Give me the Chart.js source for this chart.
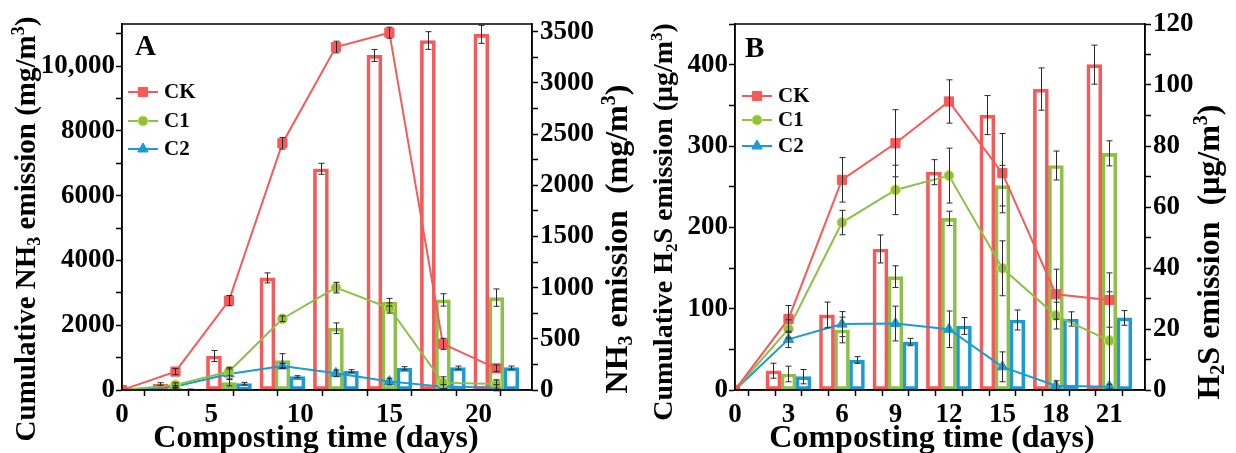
<!DOCTYPE html>
<html><head><meta charset="utf-8">
<script src="https://cdn.jsdelivr.net/npm/chart.js@4.4.0/dist/chart.umd.min.js"></script>
<style>
html,body{margin:0;padding:0;background:#fff;}
body{width:1236px;height:453px;position:relative;overflow:hidden;}
#ca{position:absolute;left:0;top:0;}
#cb{position:absolute;left:620px;top:0;}
</style></head><body>
<canvas id="ca" width="640" height="453"></canvas>
<canvas id="cb" width="616" height="453"></canvas>
<script>
// ---------- DATA ----------
const lineDays = [0, 3, 6, 9, 12, 15, 18, 21];
const barDays = [3, 6, 9, 12, 15, 18, 21];
const seriesNames = ['CK', 'C1', 'C2'];

// Panel A: NH3 (lines = daily emission, right axis; bars = cumulative, left axis)
const nh3RateCK = [0, 180, 873, 2410, 3350, 3490, 451, 212];
const nh3RateC1 = [0, 50, 180, 696, 1000, 801, 72, 59];
const nh3RateC2 = [0, 35, 157, 235, 163, 82, 33, 22];
const nh3RateErrCK = [0, 30, 50, 57, 57, 54, 54, 33];
const nh3RateErrC1 = [0, 20, 42, 28, 52, 50, 57, 40];
const nh3RateErrC2 = [0, 10, 49, 25, 33, 33, 20, 30];
const nh3CumCK = [185, 1050, 3460, 6830, 10330, 10790, 10980];
const nh3CumC1 = [40, 226, 905, 1906, 2710, 2781, 2852];
const nh3CumC2 = [20, 195, 411, 587, 670, 690, 690];
const nh3CumErrCK = [40, 170, 155, 170, 185, 273, 278];
const nh3CumErrC1 = [15, 100, 216, 165, 118, 190, 268];
const nh3CumErrC2 = [10, 40, 30, 40, 50, 50, 50];

// Panel B: H2S
const h2sRateCK = [0, 23.3, 68.9, 80.9, 94.6, 71.1, 31.4, 29.5];
const h2sRateC1 = [0, 20.0, 54.9, 65.6, 70.3, 39.9, 24.4, 16.2];
const h2sRateC2 = [0, 16.6, 21.6, 21.8, 19.9, 7.6, 1.4, 1.1];
const h2sRateErrCK = [0, 4.4, 7.3, 11, 7.1, 13, 8.2, 8.9];
const h2sRateErrC1 = [0, 3, 4, 8.1, 9, 9, 4.4, 16];
const h2sRateErrC2 = [0, 2.7, 4.1, 5.7, 6, 4.9, 1.6, 0.8];
const h2sCumCK = [23.7, 92.3, 173.4, 267.8, 338, 370, 400];
const h2sCumC1 = [19.7, 73.8, 139.4, 211, 251.3, 276, 291];
const h2sCumC2 = [16.4, 36.9, 59, 78.7, 86.1, 87.3, 88.6];
const h2sCumErrCK = [9.2, 15.8, 17.2, 15.4, 24, 26, 24];
const h2sCumErrC1 = [9.6, 15.8, 13.3, 8.8, 25, 17.8, 15.4];
const h2sCumErrC2 = [8.8, 4.1, 4.5, 10.3, 12.3, 8.8, 9];

// Tick labels (major) and tick-mark spacing (minor)
const aXTickVals = [0, 5, 10, 15, 20];
const aXTickText = ['0', '5', '10', '15', '20'];
const aLeftTickVals = [0, 2000, 4000, 6000, 8000, 10000];
const aLeftTickText = ['0', '2000', '4000', '6000', '8000', '10,000'];
const aRightTickVals = [0, 500, 1000, 1500, 2000, 2500, 3000, 3500];
const aRightTickText = ['0', '500', '1000', '1500', '2000', '2500', '3000', '3500'];
const bXTickVals = [0, 3, 6, 9, 12, 15, 18, 21];
const bXTickText = ['0', '3', '6', '9', '12', '15', '18', '21'];
const bLeftTickVals = [0, 100, 200, 300, 400];
const bLeftTickText = ['0', '100', '200', '300', '400'];
const bRightTickVals = [0, 20, 40, 60, 80, 100, 120];
const bRightTickText = ['0', '20', '40', '60', '80', '100', '120'];

// ---------- STYLE ----------
const RED = '#F55A5A', GREEN = '#8CC04A', BLUE = '#1C9AD6';
const FONT = '"Liberation Serif", "Times New Roman", serif';

function labeler(vals, texts) {
  return function (v) {
    for (let i = 0; i < vals.length; i++) if (Math.abs(v - vals[i]) < 1e-6) return texts[i];
    return '';
  };
}
function tickMarks(max, step) {
  const out = [];
  for (let k = 0; k * step <= max + 1e-9; k++) out.push({ value: Math.round(k * step * 1000) / 1000 });
  return out;
}

function pairs(xs, ys) { return xs.map((x, i) => ({ x: x, y: ys[i] })); }

function lineDS(label, ys, errs, color, style, radius, borderCol) {
  return {
    type: 'line', label: label, data: pairs(lineDays, ys), errors: errs,
    yAxisID: 'yR', order: 1,
    borderColor: color, backgroundColor: color, borderWidth: 2, tension: 0,
    pointStyle: style, pointRadius: radius, pointBorderColor: borderCol || color,
    pointBackgroundColor: color, pointBorderWidth: 1, fill: false
  };
}
function barDS(label, ys, errs, color) {
  return {
    type: 'bar', label: label, data: pairs(barDays, ys), errors: errs,
    yAxisID: 'yL', order: 3,
    borderColor: color, backgroundColor: 'rgba(255,255,255,0)', borderWidth: 3,
    borderSkipped: false, barThickness: 15, grouped: true
  };
}

const errorBarPlugin = {
  id: 'errbars',
  afterDatasetsDraw(chart) {
    const ctx = chart.ctx;
    ctx.save();
    ctx.strokeStyle = '#2a2a2a'; ctx.lineWidth = 1;
    chart.data.datasets.forEach((ds, i) => {
      if (!ds.errors) return;
      const meta = chart.getDatasetMeta(i);
      const ys = chart.scales[ds.yAxisID];
      meta.data.forEach((el, j) => {
        const e = ds.errors[j];
        if (!e) return;
        const v = ds.data[j].y;
        const x = Math.round(el.x) + 0.5;
        const y1 = ys.getPixelForValue(v + e), y2 = ys.getPixelForValue(v - e);
        ctx.beginPath();
        ctx.moveTo(x, y1); ctx.lineTo(x, y2);
        ctx.moveTo(x - 3, y1); ctx.lineTo(x + 3, y1);
        ctx.moveTo(x - 3, y2); ctx.lineTo(x + 3, y2);
        ctx.stroke();
      });
    });
    ctx.restore();
  }
};

function drawRich(ctx, parts, x, y, size, rot) {
  ctx.save();
  ctx.translate(x, y); ctx.rotate(rot);
  const main = 'bold ' + size + 'px ' + FONT;
  const small = 'bold ' + Math.round(size * 0.62) + 'px ' + FONT;
  let total = 0;
  const ws = parts.map(p => { ctx.font = p.s ? small : main; const w = ctx.measureText(p.t).width; total += w; return w; });
  let cx = -total / 2;
  ctx.textBaseline = 'alphabetic'; ctx.textAlign = 'left'; ctx.fillStyle = '#000';
  parts.forEach((p, k) => {
    ctx.font = p.s ? small : main;
    const dy = p.s === 'sub' ? size * 0.18 : (p.s === 'sup' ? -size * 0.36 : 0);
    ctx.fillText(p.t, cx, dy + size * 0.33);
    cx += ws[k];
  });
  ctx.restore();
}

function decorPlugin(opts) {
  return {
    id: 'decor',
    afterDraw(chart) {
      const ctx = chart.ctx;
      const a = chart.chartArea;
      ctx.save();
      ctx.strokeStyle = '#000'; ctx.lineWidth = 1.5;
      ctx.strokeRect(a.left, a.top, a.right - a.left, a.bottom - a.top);
      ctx.restore();
      ctx.save();
      ctx.fillStyle = '#000'; ctx.font = 'bold 29px ' + FONT; ctx.textBaseline = 'alphabetic';
      ctx.fillText(opts.letter, opts.letterX, opts.letterY);
      ctx.restore();
      const cols = [RED, GREEN, BLUE], styles = ['rect', 'circle', 'triangle'], radii = [6.5, 5, 6];
      opts.legendY.forEach((ly, i) => {
        ctx.save();
        ctx.strokeStyle = cols[i]; ctx.lineWidth = 2;
        ctx.beginPath(); ctx.moveTo(opts.legendX, ly); ctx.lineTo(opts.legendX + 30, ly); ctx.stroke();
        ctx.fillStyle = cols[i]; ctx.strokeStyle = i === 1 ? '#E3DF3F' : cols[i]; ctx.lineWidth = 1;
        Chart.helpers.drawPoint(ctx, { pointStyle: styles[i], radius: radii[i], borderWidth: 1, rotation: 0 }, opts.legendX + 15, ly);
        ctx.fillStyle = '#000'; ctx.font = 'bold 21px ' + FONT; ctx.textBaseline = 'middle';
        ctx.fillText(seriesNames[i], opts.legendX + 36, ly + 1);
        ctx.restore();
      });
      drawRich(ctx, opts.leftTitle, opts.leftTitleX, opts.leftTitleY, opts.leftTitleSize, -Math.PI / 2);
      drawRich(ctx, opts.rightTitle, opts.rightTitleX, opts.rightTitleY, 32, -Math.PI / 2);
      drawRich(ctx, [{ t: 'Composting time (days)' }], opts.xTitleX, opts.xTitleY, 32, 0);
    }
  };
}

function axisCommon(extra) {
  return Object.assign({
    grid: { drawOnChartArea: false, drawTicks: true, tickLength: 6, color: '#000', tickColor: '#000', tickWidth: 1.5 },
    border: { display: true, color: '#000', width: 1.5 }
  }, extra);
}

function tickOpts(vals, texts, pad) {
  return {
    autoSkip: false, maxRotation: 0, minRotation: 0,
    color: '#000', padding: pad, font: { family: FONT, weight: 'bold', size: 27 },
    callback: labeler(vals, texts)
  };
}

function makeChart(canvas, cfg) {
  return new Chart(canvas, {
    type: 'line',
    data: { datasets: cfg.datasets },
    options: {
      responsive: false, animation: false, devicePixelRatio: 1,
      layout: { padding: { top: 24, left: 0, right: 0, bottom: 0 } },
      plugins: { legend: { display: false }, tooltip: { enabled: false } },
      scales: {
        x: axisCommon({
          type: 'linear', position: 'bottom', min: 0, max: 23, offset: false,
          ticks: tickOpts(cfg.xVals, cfg.xText, 3),
          afterBuildTicks: s => { s.ticks = tickMarks(23, cfg.xStep); },
          afterFit: s => { s.height = 63; }
        }),
        yL: axisCommon({
          type: 'linear', position: 'left', min: 0, max: cfg.leftMax,
          ticks: tickOpts(cfg.leftVals, cfg.leftText, 1),
          afterBuildTicks: s => { s.ticks = tickMarks(cfg.leftMax, cfg.leftStep); },
          afterFit: s => { s.width = cfg.leftWidth; }
        }),
        yR: axisCommon({
          type: 'linear', position: 'right', min: 0, max: cfg.rightMax,
          ticks: tickOpts(cfg.rightVals, cfg.rightText, 2),
          afterBuildTicks: s => { s.ticks = tickMarks(cfg.rightMax, cfg.rightStep); },
          afterFit: s => { s.width = cfg.rightWidth; }
        })
      }
    },
    plugins: [errorBarPlugin, decorPlugin(cfg.decor)]
  });
}

// ---------- PANEL A ----------
makeChart(document.getElementById('ca'), {
  datasets: [
    barDS('CK', nh3CumCK, nh3CumErrCK, RED),
    barDS('C1', nh3CumC1, nh3CumErrC1, GREEN),
    barDS('C2', nh3CumC2, nh3CumErrC2, BLUE),
    lineDS('CK', nh3RateCK, nh3RateErrCK, RED, 'rect', 6.5),
    lineDS('C1', nh3RateC1, nh3RateErrC1, GREEN, 'circle', 5, '#E3DF3F'),
    lineDS('C2', nh3RateC2, nh3RateErrC2, BLUE, 'triangle', 6)
  ],
  xStep: 2.5, xVals: aXTickVals, xText: aXTickText,
  leftMax: 11300, leftStep: 1000, leftVals: aLeftTickVals, leftText: aLeftTickText, leftWidth: 122,
  rightMax: 3575, rightStep: 250, rightVals: aRightTickVals, rightText: aRightTickText, rightWidth: 108,
  decor: {
    letter: 'A', letterX: 135, letterY: 55,
    legendX: 128, legendY: [92, 121, 149],
    leftTitle: [{ t: 'Cumulative NH' }, { t: '3', s: 'sub' }, { t: ' emission (mg/m' }, { t: '3', s: 'sup' }, { t: ')' }],
    leftTitleX: 25, leftTitleY: 229, leftTitleSize: 29,
    rightTitle: [{ t: 'NH' }, { t: '3', s: 'sub' }, { t: ' emission  (mg/m' }, { t: '3', s: 'sup' }, { t: ')' }],
    rightTitleX: 616, rightTitleY: 239,
    xTitleX: 316, xTitleY: 436
  }
});

// ---------- PANEL B ----------
makeChart(document.getElementById('cb'), {
  datasets: [
    barDS('CK', h2sCumCK, h2sCumErrCK, RED),
    barDS('C1', h2sCumC1, h2sCumErrC1, GREEN),
    barDS('C2', h2sCumC2, h2sCumErrC2, BLUE),
    lineDS('CK', h2sRateCK, h2sRateErrCK, RED, 'rect', 6.5),
    lineDS('C1', h2sRateC1, h2sRateErrC1, GREEN, 'circle', 5, '#E3DF3F'),
    lineDS('C2', h2sRateC2, h2sRateErrC2, BLUE, 'triangle', 6)
  ],
  xStep: 1.5, xVals: bXTickVals, xText: bXTickText,
  leftMax: 450, leftStep: 50, leftVals: bLeftTickVals, leftText: bLeftTickText, leftWidth: 115,
  rightMax: 120, rightStep: 10, rightVals: bRightTickVals, rightText: bRightTickText, rightWidth: 91,
  decor: {
    letter: 'B', letterX: 125, letterY: 57,
    legendX: 122, legendY: [96, 120, 146],
    leftTitle: [{ t: 'Cumulative H' }, { t: '2', s: 'sub' }, { t: 'S emission (\u03bcg/m' }, { t: '3', s: 'sup' }, { t: ')' }],
    leftTitleX: 43, leftTitleY: 222, leftTitleSize: 28,
    rightTitle: [{ t: 'H' }, { t: '2', s: 'sub' }, { t: 'S emission  (\u03bcg/m' }, { t: '3', s: 'sup' }, { t: ')' }],
    rightTitleX: 588, rightTitleY: 252,
    xTitleX: 312, xTitleY: 436
  }
});
</script>
</body></html>
